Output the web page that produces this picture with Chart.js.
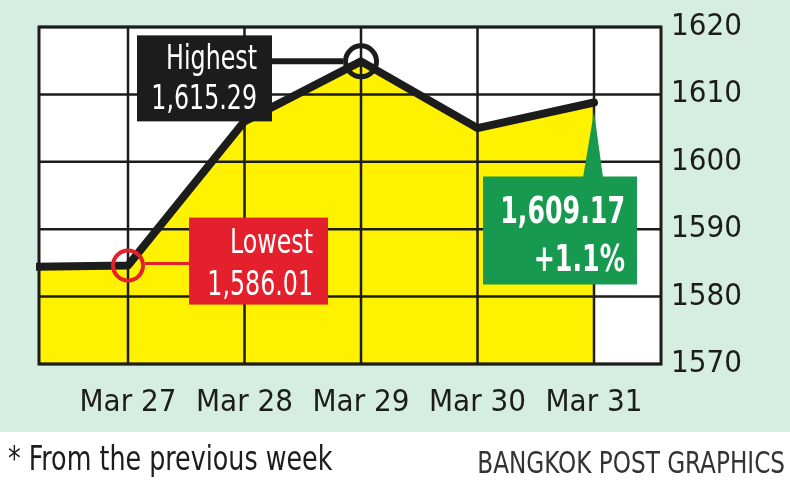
<!DOCTYPE html>
<html>
<head>
<meta charset="utf-8">
<script src="https://cdn.jsdelivr.net/npm/chart.js@4.4.0/dist/chart.umd.min.js"></script>
<style>
  html, body { margin: 0; padding: 0; background: #fff; }
  canvas { display: block; }
</style>
</head>
<body>
<canvas id="setChart" width="790" height="484"></canvas>
<script>
// -1 is the last session of the previous week, it runs off the left edge
const dayIndex = [-1, 0, 1, 2, 3, 4];
const closeValues = [1584.4, 1584.6, 1606.0, 1614.9, 1605.0, 1608.8];
const dayLabels = ['Mar 27', 'Mar 28', 'Mar 29', 'Mar 30', 'Mar 31'];
const yTicks = [1570, 1580, 1590, 1600, 1610, 1620];
const highText = ['Highest', '1,615.29'];
const lowText = ['Lowest', '1,586.01'];
const lastText = ['1,609.17', '+1.1%'];
const footNote = '* From the previous week';
const credit = 'BANGKOK POST GRAPHICS';

const HIGH = 3, LOW = 1, LAST = 5;
const FONT = "'DejaVu Sans Condensed', 'DejaVu Sans', sans-serif";
const INK = '#1c1c1c';
const RED = '#e3202c';
const GREEN = '#17994f';
const YELLOW = '#fff200';

// the print uses a narrow face, so squeeze the condensed one a bit more
function squeeze(ctx, text, x, y, sx, align) {
  ctx.save();
  ctx.translate(x, y);
  ctx.scale(sx, 1);
  ctx.textAlign = align;
  ctx.textBaseline = 'alphabetic';
  ctx.fillText(text, 0, 0);
  ctx.restore();
}

function textLines(ctx, lines, right, baselines, font, sx) {
  ctx.font = font;
  ctx.fillStyle = '#ffffff';
  lines.forEach((t, i) => squeeze(ctx, t, right, baselines[i], sx, 'right'));
}

const decor = {
  id: 'decor',
  beforeDraw(chart) {
    const ctx = chart.ctx;
    const a = chart.chartArea;
    ctx.save();
    ctx.fillStyle = '#d6ede1';
    ctx.fillRect(0, 0, chart.width, 432);
    ctx.fillStyle = '#ffffff';
    ctx.fillRect(0, 432, chart.width, chart.height - 432);
    ctx.fillRect(a.left, a.top, a.right - a.left, a.bottom - a.top);
    ctx.restore();
  },
  // grid goes over the yellow fill but under the line
  beforeDatasetsDraw(chart) {
    const { ctx, chartArea: a, scales: { x, y } } = chart;
    ctx.save();
    ctx.strokeStyle = INK;
    ctx.lineWidth = 2.5;
    ctx.beginPath();
    x.ticks.forEach(t => {
      const px = x.getPixelForValue(t.value);
      ctx.moveTo(px, a.top);
      ctx.lineTo(px, a.bottom);
    });
    y.ticks.forEach(t => {
      const py = y.getPixelForValue(t.value);
      ctx.moveTo(a.left, py);
      ctx.lineTo(a.right, py);
    });
    ctx.stroke();
    ctx.lineWidth = 3;
    ctx.strokeRect(a.left, a.top, a.right - a.left, a.bottom - a.top);
    ctx.restore();
  },
  afterDraw(chart) {
    const ctx = chart.ctx;
    const pts = chart.getDatasetMeta(0).data;
    ctx.save();

    // highest
    const h = pts[HIGH];
    ctx.strokeStyle = INK;
    ctx.lineWidth = 6;
    ctx.beginPath();
    ctx.moveTo(h.x - 90, h.y);
    ctx.lineTo(h.x - 18, h.y);
    ctx.stroke();
    ctx.fillStyle = INK;
    ctx.fillRect(h.x - 224, h.y - 26, 135, 86);
    textLines(ctx, highText, h.x - 104, [h.y + 8, h.y + 48], `33px ${FONT}`, 0.8);

    // lowest
    const l = pts[LOW];
    ctx.strokeStyle = RED;
    ctx.lineWidth = 3;
    ctx.beginPath();
    ctx.moveTo(l.x + 17, l.y - 2);
    ctx.lineTo(l.x + 62, l.y - 2);
    ctx.stroke();
    ctx.fillStyle = RED;
    ctx.fillRect(l.x + 61, l.y - 48, 139, 87);
    textLines(ctx, lowText, l.x + 185, [l.y - 13, l.y + 29], `33px ${FONT}`, 0.8);

    // last close
    const c = pts[LAST];
    const top = c.y + 74;
    ctx.fillStyle = GREEN;
    ctx.beginPath();
    ctx.moveTo(c.x, c.y + 9);
    ctx.lineTo(c.x + 9, top + 1);
    ctx.lineTo(c.x - 11, top + 1);
    ctx.closePath();
    ctx.fill();
    ctx.fillRect(c.x - 111, top, 154, 108);
    textLines(ctx, lastText, c.x + 31, [c.y + 121, c.y + 169], `bold 37px ${FONT}`, 0.76);

    // footer
    ctx.font = `34px ${FONT}`;
    ctx.fillStyle = INK;
    squeeze(ctx, footNote, 8, 470, 0.83, 'left');
    ctx.font = `31px ${FONT}`;
    ctx.fillStyle = '#333333';
    squeeze(ctx, credit, 785, 473, 0.83, 'right');
    ctx.restore();
  }
};

const chart = new Chart(document.getElementById('setChart'), {
  type: 'line',
  data: {
    datasets: [{
      data: dayIndex.map((d, i) => ({ x: d, y: closeValues[i] })),
      borderColor: INK,
      borderWidth: 8,
      borderCapStyle: 'round',
      borderJoinStyle: 'round',
      tension: 0,
      fill: 'start',
      backgroundColor: YELLOW,
      pointRadius: closeValues.map((_, i) => i === LOW ? 15 : i === HIGH ? 15.5 : 0),
      pointBorderWidth: closeValues.map((_, i) => i === HIGH ? 5 : 4),
      pointBorderColor: closeValues.map((_, i) => i === LOW ? RED : INK),
      pointBackgroundColor: 'rgba(0,0,0,0)',
      clip: 3
    }]
  },
  options: {
    responsive: false,
    animation: false,
    devicePixelRatio: 1,
    events: [],
    layout: { padding: { left: 39, top: 27, right: 0, bottom: 50 } },
    plugins: {
      legend: { display: false },
      tooltip: { enabled: false },
      filler: { drawTime: 'beforeDatasetsDraw' }
    },
    scales: {
      x: {
        type: 'linear',
        min: -0.764,
        max: 4.575,
        afterBuildTicks: s => { s.ticks = dayLabels.map((_, i) => ({ value: i })); },
        afterFit: s => { s.height = 70; s.paddingLeft = 0; s.paddingRight = 0; },
        grid: { display: false, drawTicks: false },
        border: { display: false },
        ticks: {
          color: INK,
          font: { family: FONT, size: 31 },
          padding: 20,
          maxRotation: 0,
          autoSkip: false,
          callback: v => dayLabels[v]
        }
      },
      y: {
        position: 'right',
        min: 1570,
        max: 1620,
        afterBuildTicks: s => { s.ticks = yTicks.map(v => ({ value: v })); },
        afterFit: s => { s.width = 129; s.paddingTop = 0; s.paddingBottom = 0; },
        grid: { display: false, drawTicks: false },
        border: { display: false },
        ticks: {
          color: INK,
          font: { family: FONT, size: 31 },
          padding: 10,
          callback: v => String(v)
        }
      }
    }
  },
  plugins: [decor]
});
</script>
</body>
</html>
